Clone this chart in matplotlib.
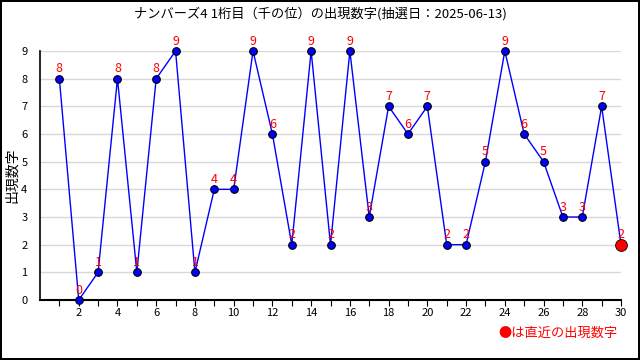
import numpy as np
import matplotlib.pyplot as plt

plt.rcParams['font.family'] = ['Noto Sans CJK JP', 'DejaVu Sans']

kai = list(range(1, 31))
suuji = [8, 0, 1, 8, 1, 8, 9, 1, 4, 4, 9, 6, 2, 9, 2, 9, 3, 7, 6, 7,
         2, 2, 5, 9, 6, 5, 3, 3, 7, 2]
title = 'ナンバーズ4 1桁目（千の位）の出現数字(抽選日：2025-06-13)'

fig = plt.figure(figsize=(6.4, 3.6), dpi=100)
fig.patch.set_edgecolor('black')
fig.patch.set_linewidth(1.5)
ax = fig.add_axes([40/640, 60/360, 581/640, 249/360])

ax.plot(kai, suuji, color='blue', lw=1, marker='o', ms=5.5,
        mfc='blue', mec='black', mew=0.8, clip_on=False, zorder=3)
ax.plot(kai[-1], suuji[-1], 'o', color='red', ms=8.5, mec='black', mew=0.6,
        clip_on=False, zorder=4)

for x, y in zip(kai, suuji):
    ax.annotate(str(y), (x, y), xytext=(0, 2.5), textcoords='offset points',
                ha='center', va='bottom', color='red', fontsize=9,
                annotation_clip=False)

ax.set_xlim(0, 30)
ax.set_ylim(0, 9)
ax.set_xticks(kai)
ax.set_xticklabels([str(k) if k % 2 == 0 else '' for k in kai], fontsize=8)
ax.set_yticks(range(10))
ax.tick_params(axis='y', length=0, labelsize=8, pad=9)
ax.tick_params(axis='x', length=4, labelsize=8, pad=2)
ax.grid(axis='y', color='#d8d8d8', lw=1)
ax.set_axisbelow(True)
for s in ['top', 'right']:
    ax.spines[s].set_visible(False)
ax.spines['left'].set_linewidth(1.2)
ax.spines['bottom'].set_linewidth(1.5)

ax.set_ylabel('出現数字', fontsize=10, va='center')
ax.yaxis.set_label_coords(-28/581, 0.5)
fig.text(0.5, 1 - 14/360, title, ha='center', va='center', fontsize=9.5)
fig.text(618/640, 1 - 333/360, '●は直近の出現数字', ha='right', va='center',
         color='red', fontsize=9.5)

fig.savefig('out.png', dpi=100, edgecolor=fig.get_edgecolor())
